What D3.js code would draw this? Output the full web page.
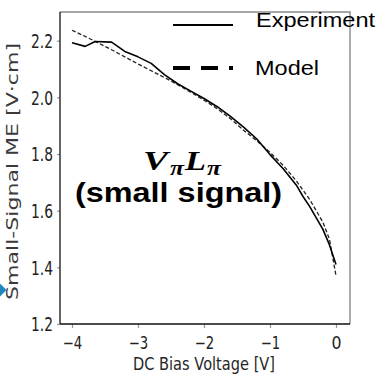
<!DOCTYPE html>
<html>
<head>
<meta charset="utf-8">
<script src="https://cdn.jsdelivr.net/npm/d3@7"></script>
<style>
  html, body { margin: 0; padding: 0; background: #fff; }
  svg { display: block; }
</style>
</head>
<body>
<svg id="chart" width="381" height="378"></svg>
<script>
// Bias voltage sweep and small-signal modulation efficiency (V·cm)
const expVoltage = [-4.0, -3.8, -3.65, -3.4, -3.2, -3.0, -2.8, -2.6, -2.4, -2.2, -2.0, -1.8, -1.6, -1.4, -1.2, -1.0, -0.8, -0.6, -0.5, -0.4, -0.2, -0.1, 0.0];
const expME      = [2.193, 2.180, 2.197, 2.195, 2.162, 2.143, 2.120, 2.080, 2.048, 2.022, 1.996, 1.967, 1.933, 1.895, 1.853, 1.798, 1.748, 1.690, 1.650, 1.615, 1.535, 1.480, 1.410];

const modelVoltage = [-4.0, -3.8, -3.6, -3.4, -3.2, -3.0, -2.8, -2.6, -2.4, -2.2, -2.0, -1.8, -1.6, -1.4, -1.2, -1.0, -0.8, -0.6, -0.4, -0.2, -0.1, 0.0];
const modelME      = [2.237, 2.215, 2.192, 2.168, 2.143, 2.118, 2.094, 2.070, 2.045, 2.018, 1.990, 1.960, 1.925, 1.884, 1.847, 1.806, 1.760, 1.705, 1.640, 1.560, 1.500, 1.370];

const xTicks = [-4, -3, -2, -1, 0];
const yTicks = [1.2, 1.4, 1.6, 1.8, 2.0, 2.2];
const seriesNames = ["Experiment", "Model"];

const svg = d3.select("#chart");

const plot = { left: 60, right: 350, top: 12, bottom: 324 };
const x = d3.scaleLinear().domain([-4, 0]).range([72, 336]);
const y = d3.scaleLinear().domain([1.2, 2.2]).range([324, 40.7]);

// frame: top and right edges in grey
svg.append("line").attr("x1", plot.left).attr("x2", plot.right + 0.7)
  .attr("y1", plot.top).attr("y2", plot.top)
  .attr("stroke", "#8a8a8a").attr("stroke-width", 1.4);
svg.append("line").attr("x1", plot.right).attr("x2", plot.right)
  .attr("y1", plot.top).attr("y2", plot.bottom)
  .attr("stroke", "#8a8a8a").attr("stroke-width", 1.4);

// x axis
const xAxis = svg.append("g").attr("transform", `translate(0,${plot.bottom})`)
  .call(d3.axisBottom(x).tickValues(xTicks).tickSize(4).tickSizeOuter(0)
    .tickFormat(d => d === 0 ? "0" : "\u2212" + Math.abs(d)));
xAxis.select(".domain").remove();
xAxis.selectAll(".tick line").attr("stroke", "#999").attr("stroke-width", 1.2);
xAxis.selectAll(".tick text")
  .attr("y", 24.5).attr("dy", null)
  .attr("font-family", "DejaVu Sans").attr("font-size", 17.5).attr("fill", "#222")
  .attr("text-anchor", "middle")
  .each(function(d) {
    const w = d === 0 ? 10 : 19.5;
    d3.select(this).attr("textLength", w).attr("lengthAdjust", "spacingAndGlyphs");
  });

// y axis
const yAxis = svg.append("g").attr("transform", `translate(${plot.left},0)`)
  .call(d3.axisLeft(y).tickValues(yTicks).tickSize(3).tickSizeOuter(0)
    .tickFormat(d3.format(".1f")));
yAxis.select(".domain").remove();
yAxis.selectAll(".tick line").attr("stroke", "#999").attr("stroke-width", 1.2);
yAxis.selectAll(".tick text")
  .attr("x", -7).attr("dy", "0.36em")
  .attr("font-family", "DejaVu Sans").attr("font-size", 19).attr("fill", "#222")
  .attr("textLength", 22).attr("lengthAdjust", "spacingAndGlyphs");

// left and bottom spines
svg.append("line").attr("x1", plot.left).attr("x2", plot.left)
  .attr("y1", plot.top).attr("y2", plot.bottom)
  .attr("stroke", "#111").attr("stroke-width", 1.3);
svg.append("line").attr("x1", plot.left).attr("x2", plot.right)
  .attr("y1", plot.bottom).attr("y2", plot.bottom)
  .attr("stroke", "#111").attr("stroke-width", 1.3);

// axis titles
svg.append("text")
  .attr("x", 204).attr("y", 370)
  .attr("text-anchor", "middle")
  .attr("font-family", "DejaVu Sans").attr("font-size", 17.5).attr("fill", "#262626")
  .attr("textLength", 142).attr("lengthAdjust", "spacingAndGlyphs")
  .text("DC Bias Voltage [V]");

svg.append("text")
  .attr("transform", "translate(17.5,171.5) rotate(-90)")
  .attr("text-anchor", "middle")
  .attr("font-family", "DejaVu Sans").attr("font-size", 16.5).attr("fill", "#3a3a3a")
  .attr("textLength", 257).attr("lengthAdjust", "spacingAndGlyphs")
  .text("Small-Signal ME [V\u00B7cm]");

// curves
const line = d3.line().x(d => x(d[0])).y(d => y(d[1]));
const expPts = expVoltage.map((v, i) => [v, expME[i]]);
const modelPts = modelVoltage.map((v, i) => [v, modelME[i]]);

svg.append("path").datum(modelPts).attr("d", line)
  .attr("fill", "none").attr("stroke", "#222").attr("stroke-width", 1.3)
  .attr("stroke-dasharray", "4,2.2");
svg.append("path").datum(expPts).attr("d", line)
  .attr("fill", "none").attr("stroke", "#000").attr("stroke-width", 1.6)
  .attr("stroke-linejoin", "round");

// legend
const legend = svg.append("g");
legend.append("line").attr("x1", 173).attr("x2", 233).attr("y1", 25).attr("y2", 25)
  .attr("stroke", "#000").attr("stroke-width", 2.2);
legend.append("line").attr("x1", 173).attr("x2", 233).attr("y1", 68).attr("y2", 68)
  .attr("stroke", "#000").attr("stroke-width", 4.2).attr("stroke-dasharray", "17,11");
legend.append("text").attr("x", 256).attr("y", 27)
  .attr("font-family", "Liberation Sans, Arial, sans-serif").attr("font-size", 19.5).attr("fill", "#000")
  .attr("textLength", 119).attr("lengthAdjust", "spacingAndGlyphs")
  .text(seriesNames[0]);
legend.append("text").attr("x", 255).attr("y", 74.5)
  .attr("font-family", "Liberation Sans, Arial, sans-serif").attr("font-size", 19.5).attr("fill", "#000")
  .attr("textLength", 64).attr("lengthAdjust", "spacingAndGlyphs")
  .text(seriesNames[1]);

// annotation: V_pi L_pi (small signal)
const ann = svg.append("text")
  .attr("font-family", "Liberation Serif, serif").attr("font-weight", "bold")
  .attr("font-style", "italic").attr("fill", "#000");
ann.append("tspan").attr("x", 143).attr("y", 170).attr("font-size", 27)
  .attr("textLength", 25).attr("lengthAdjust", "spacingAndGlyphs").text("V");
ann.append("tspan").attr("x", 170).attr("y", 175).attr("font-size", 20)
  .attr("textLength", 14).attr("lengthAdjust", "spacingAndGlyphs").text("\u03C0");
ann.append("tspan").attr("x", 185).attr("y", 170).attr("font-size", 27)
  .attr("textLength", 21).attr("lengthAdjust", "spacingAndGlyphs").text("L");
ann.append("tspan").attr("x", 207).attr("y", 175).attr("font-size", 20)
  .attr("textLength", 14).attr("lengthAdjust", "spacingAndGlyphs").text("\u03C0");

svg.append("text").attr("x", 75).attr("y", 202)
  .attr("font-family", "Liberation Sans, Arial, sans-serif").attr("font-weight", "bold")
  .attr("font-size", 28).attr("fill", "#000")
  .attr("textLength", 207).attr("lengthAdjust", "spacingAndGlyphs")
  .text("(small signal)");

// blue diamond marker at the left edge
svg.append("path")
  .attr("d", d3.symbol().type(d3.symbolDiamond2).size(230)())
  .attr("transform", "translate(-3,290)")
  .attr("fill", "#1f86c2");
</script>
</body>
</html>
